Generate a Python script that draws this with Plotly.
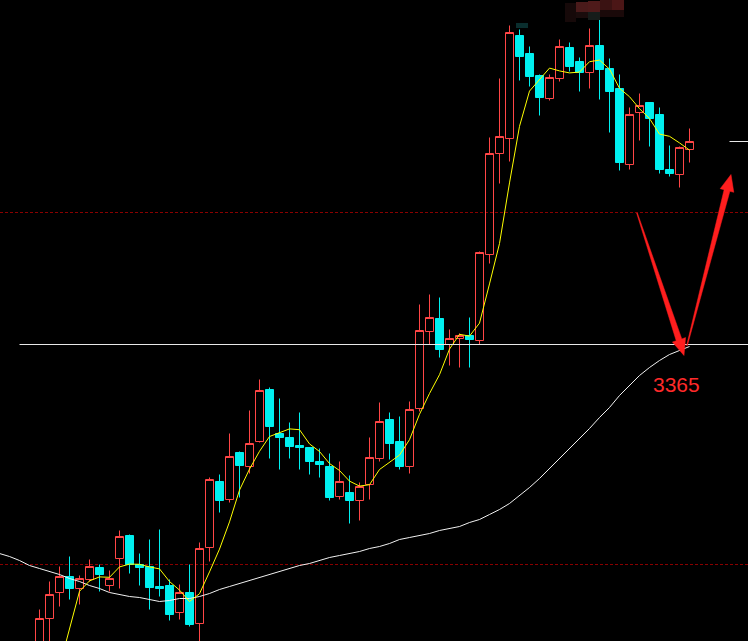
import plotly.graph_objects as go

# ---- data (price units; candles at integer positions) ----
idx = list(range(66))
opens = [3055,3091,3117,3133,3121,3130,3142,3124,3151,3174,3145,3143,3123,3124,3097,3117,3086,3162,3228,3210,
         3257,3243,3268,3320,3276,3272,3264,3262,3248,3243,3213,3217,3209,3225,3251,3290,3268,3243,3301,3378,
         3391,3365,3371,3374,3369,3455,3556,3571,3674,3656,3634,3611,3631,3662,3648,3637,3664,3641,3621,3545,
         3597,3607,3595,3540,3535,3560]
highs = [3100,3128,3143,3153,3134,3150,3145,3139,3179,3175,3156,3170,3180,3130,3125,3145,3167,3232,3235,3276,
         3258,3299,3330,3322,3311,3287,3297,3262,3261,3256,3248,3234,3227,3272,3307,3297,3293,3308,3405,3415,
         3412,3380,3376,3392,3458,3572,3631,3684,3680,3663,3635,3635,3670,3667,3652,3681,3690,3651,3635,3602,
         3616,3607,3602,3564,3563,3581]
lows = [3045,3065,3103,3110,3105,3128,3118,3118,3121,3136,3124,3100,3113,3089,3090,3083,3050,3148,3197,3207,
        3212,3236,3267,3251,3240,3251,3240,3235,3232,3209,3210,3186,3189,3210,3248,3250,3240,3236,3298,3365,
        3352,3344,3342,3342,3365,3446,3526,3548,3629,3623,3594,3609,3628,3638,3618,3621,3610,3577,3539,3540,
        3569,3563,3536,3533,3522,3547]
closes = [3091,3115,3133,3121,3131,3143,3135,3131,3173,3145,3142,3122,3121,3095,3117,3085,3161,3230,3209,3253,
          3244,3266,3319,3283,3272,3263,3262,3248,3245,3212,3228,3209,3223,3252,3288,3266,3243,3300,3379,3392,
          3360,3371,3374,3370,3457,3556,3573,3677,3653,3633,3612,3632,3663,3643,3637,3664,3640,3618,3547,3595,
          3604,3591,3540,3536,3562,3568]
ma_short = [None, None, 3043, 3081, 3118.2, 3128.6, 3132.6, 3132.2, 3142.6, 3145.4, 3145.2, 3142.6, 3140.6, 3128,
            3119.4, 3108, 3115.8, 3137.6, 3160.4, 3187.6, 3219.4, 3240.4, 3258.2, 3273, 3276.8, 3280.6, 3279.8,
            3265.6, 3258, 3246, 3239, 3228.4, 3223.4, 3224.8, 3240, 3247.6, 3254.4, 3269.8, 3295.2, 3316, 3334.8,
            3360.4, 3375.2, 3373.4, 3386.4, 3425.6, 3466, 3526.6, 3583.2, 3618.4, 3629.6, 3641.4, 3638.6, 3636.6,
            3637.4, 3647.8, 3649.4, 3640.4, 3621.2, 3612.8, 3600.8, 3591, 3575.4, 3573.2, 3566.6, 3559.4]
ma_long_x = list(range(-4, 66))
ma_long = [3156, 3153, 3149, 3144, 3141, 3138, 3135, 3131, 3128, 3124, 3121, 3117, 3115, 3113, 3112, 3110, 3108,
           3109, 3111, 3111, 3113, 3116, 3120, 3123, 3126, 3129, 3132, 3135, 3138, 3141, 3144, 3146, 3149, 3152,
           3154, 3156, 3158, 3161, 3163, 3166, 3170, 3172, 3174, 3176, 3179, 3181, 3183, 3187, 3190, 3195, 3200,
           3206, 3214, 3222, 3231, 3241, 3250, 3260, 3270, 3281, 3292, 3302, 3314, 3324, 3334, 3342, 3349, 3355,
           3359, 3363]
support_level = 3365
grid_levels = [3497, 3145]
last_price = closes[-1]
label_text = "3365"

W, H = 748, 641
RED = "#ff4646"
CYAN = "#00f0f0"
ARROW = "#ff1e1e"

fig = go.Figure()
fig.add_trace(go.Candlestick(
    x=idx, open=opens, high=highs, low=lows, close=closes,
    increasing=dict(line=dict(color=RED, width=1), fillcolor="rgba(0,0,0,0)"),
    decreasing=dict(line=dict(color=CYAN, width=1), fillcolor=CYAN),
    hoverinfo="skip", showlegend=False,
))
fig.add_trace(go.Scatter(x=ma_long_x, y=ma_long, mode="lines",
                         line=dict(color="#f0f0f0", width=1), hoverinfo="skip", showlegend=False))
fig.add_trace(go.Scatter(x=idx, y=ma_short, mode="lines",
                         line=dict(color="#ffff00", width=1), hoverinfo="skip", showlegend=False))

def px(x, y):
    return x / W, 1 - y / H

def path(points):
    s = ""
    for k, (x, y) in enumerate(points):
        X, Y = px(x, y)
        s += ("M" if k == 0 else "L") + f"{X:.5f},{Y:.5f} "
    return s + "Z"

shapes = []
for lv in grid_levels:
    shapes.append(dict(type="line", xref="paper", x0=0, x1=1, yref="y", y0=lv, y1=lv,
                       line=dict(color="#8a0000", width=1, dash="3px,2px"), layer="below"))
shapes.append(dict(type="line", xref="x", x0=-2, x1=71, yref="y", y0=support_level, y1=support_level,
                   line=dict(color="#e8e8e8", width=1)))
shapes.append(dict(type="line", xref="x", x0=69, x1=71, yref="y", y0=last_price, y1=last_price,
                   line=dict(color="#e8e8e8", width=1)))

# down arrow
down = [(636.6, 213), (637.4, 213), (681.8, 338.9), (685.6, 337.6), (684, 355.5), (672.4, 342), (676.2, 340.7)]
# up arrow
up = [(686.6, 345.5), (687.4, 345.5), (729.9, 191.3), (733.8, 192.3), (731, 174.5), (720.2, 188.7), (724.1, 189.7)]
for pts in (down, up):
    shapes.append(dict(type="path", xref="paper", yref="paper", path=path(pts),
                       fillcolor=ARROW, line=dict(color=ARROW, width=0.5)))

# blurred watermark blocks at top
blocks = [((565, 3, 576, 22), "#160909"), ((576, 2, 588, 12), "#4a1a1a"), ((588, 1, 600, 12), "#4e1a1a"),
          ((600, 0, 612, 10), "#3a1212"), ((612, 0, 624, 12), "#4b1616"), ((588, 12, 600, 20), "#161c1a"),
          ((576, 12, 588, 18), "#1a0c0c"), ((600, 10, 624, 17), "#1a0909"), ((516, 23, 528, 28), "#0a2e2e")]
for (x0, y0, x1, y1), c in blocks:
    X0, Y0 = px(x0, y0)
    X1, Y1 = px(x1, y1)
    shapes.append(dict(type="rect", xref="paper", yref="paper", x0=X0, x1=X1, y0=Y1, y1=Y0,
                       fillcolor=c, line=dict(width=0)))

lx, ly = px(676, 384)
fig.update_layout(
    width=W, height=H, margin=dict(l=0, r=0, t=0, b=0),
    paper_bgcolor="#000000", plot_bgcolor="#000000",
    xaxis=dict(visible=False, range=[-3.95, 70.85], rangeslider=dict(visible=False), fixedrange=True),
    yaxis=dict(visible=False, range=[3068.5, 3709.5], fixedrange=True),
    boxgap=0.2, boxgroupgap=0, boxmode="overlay", showlegend=False, shapes=shapes,
    annotations=[dict(x=lx, y=ly, xref="paper", yref="paper", text=label_text, showarrow=False,
                      font=dict(family="Liberation Sans", size=21, color="#ff2a2a"),
                      xanchor="center", yanchor="middle")],
)
fig.write_html("out.html", config={"displayModeBar": False},
               post_script="document.body.style.margin='0';document.body.style.overflow='hidden';"
                           "document.body.style.background='#000';")
